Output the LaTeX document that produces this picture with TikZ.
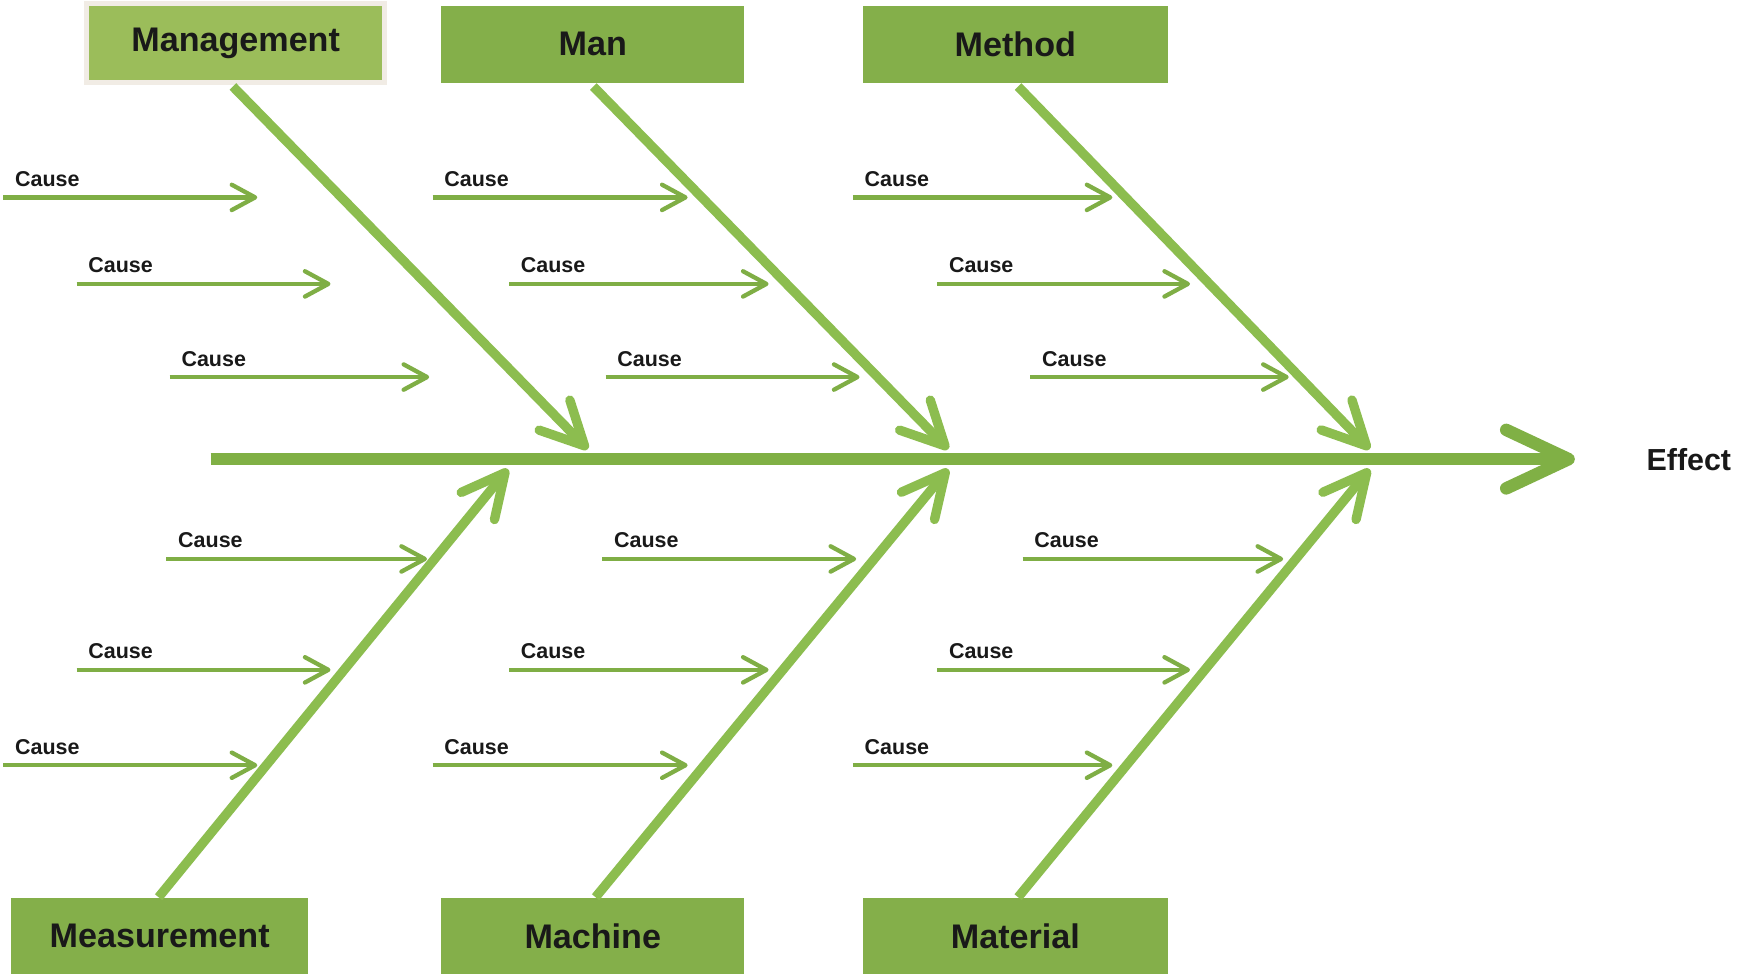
\documentclass[tikz,border=0pt]{standalone}
\usepackage{fontspec}
\setmainfont{Liberation Sans}
\usetikzlibrary{arrows.meta}
\definecolor{boxgreen}{HTML}{84AF4A}
\definecolor{mgmtgreen}{HTML}{9BBD5A}
\definecolor{bonegreen}{HTML}{8CBD4F}
\definecolor{spinegreen}{HTML}{80B045}
\definecolor{causegreen}{HTML}{7FAE45}
\definecolor{beige}{HTML}{F1ECE5}
\begin{document}
\begin{tikzpicture}[x=0.01cm,y=-0.01cm,
  catbox/.style={fill=boxgreen, draw=none, inner sep=0pt, font=\fontsize{8.75}{10}\selectfont\bfseries, text=black!90},
  spineline/.style={draw=spinegreen, line width=3.2pt, -{Straight Barb[length=16pt,width=15pt,round]}},
  boneline/.style={draw=bonegreen, line width=2.4pt, -{Straight Barb[length=11pt,width=11pt,round]}},
  causeline/.style={draw=causegreen, line width=1.1pt, -{Straight Barb[length=6pt,width=6.5pt,round]}},
  causelabel/.style={anchor=south west, inner sep=0pt, font=\fontsize{5.5}{6}\selectfont\bfseries, text=black!90},
]
\useasboundingbox (0,0) rectangle (1568,880);
\fill[white] (0,0) rectangle (1568,880);

% category boxes
\node[catbox, fill=mgmtgreen, draw=beige, line width=1.3pt, minimum width=2.69cm, minimum height=0.71cm] (mgmt) at (212.5,39) {Management};
\node[catbox, minimum width=2.73cm, minimum height=0.70cm] (man) at (534.5,40) {Man};
\node[catbox, minimum width=2.75cm, minimum height=0.70cm] (method) at (915.5,40) {Method};
\node[catbox, minimum width=2.68cm, minimum height=0.68cm] (meas) at (144,844) {Measurement};
\node[catbox, minimum width=2.73cm, minimum height=0.68cm] (mach) at (534.5,844) {Machine};
\node[catbox, minimum width=2.75cm, minimum height=0.68cm] (mat) at (915.5,844) {Material};

% effect
\node[anchor=west, inner sep=0pt, font=\fontsize{7.8}{9}\selectfont\bfseries, text=black!90] (effect) at (1484,414) {Effect};

% spine
\coordinate (s0) at (190,414);
\coordinate (s1) at (1420,414);
\draw[spineline, line cap=butt] (s0) -- (s1);

% bone tips
\coordinate (t1) at (530,405);
\coordinate (t2) at (855,405);
\coordinate (t3) at (1235,405);
\coordinate (b1) at (458,423);
\coordinate (b2) at (855,423);
\coordinate (b3) at (1235,423);

\coordinate (m1) at (210,78);
\coordinate (m2) at (535,78);
\coordinate (m3) at (918,78);
\coordinate (n1) at (143,809);
\coordinate (n2) at (537,809);
\coordinate (n3) at (918,809);

\draw[boneline] (m1) -- (t1);
\draw[boneline] (m2) -- (t2);
\draw[boneline] (m3) -- (t3);
\draw[boneline] (n1) -- (b1);
\draw[boneline] (n2) -- (b2);
\draw[boneline] (n3) -- (b3);

% cause arrows
\foreach \xa/\xb/\y/\nm in {
  3/232/178/a1, 390/620/178/a2, 769/1003/178/a3,
  69/298/256/a4, 459/693/256/a5, 845/1073/256/a6,
  153/387/340/a7, 546/775/340/a8, 929/1162/340/a9,
  150/385/504/c1, 543/772/504/c2, 922/1157/504/c3,
  69/298/604/c4, 459/693/604/c5, 845/1073/604/c6,
  3/232/690/c7, 390/620/690/c8, 769/1003/690/c9}{
  \coordinate (\nm s) at (\xa,\y);
  \coordinate (\nm e) at (\xb,\y);
  \draw[causeline] (\nm s) -- (\nm e);
  \node[causelabel] (\nm l) at ([xshift=0.1cm,yshift=0.09cm]\nm s) {Cause};
}
\end{tikzpicture}
\end{document}
